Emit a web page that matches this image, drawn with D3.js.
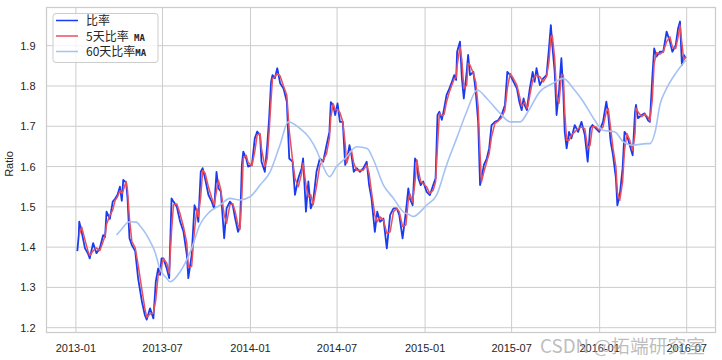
<!DOCTYPE html>
<html><head><meta charset="utf-8">
<script src="https://cdn.jsdelivr.net/npm/d3@7"></script>
<style>
html,body{margin:0;padding:0;background:#fff;}
svg{display:block;}
</style></head>
<body>
<svg id="chart" width="722" height="360"></svg>
<script>
const dates = ["2013-01-04","2013-01-07","2013-01-08","2013-01-13","2013-01-20","2013-01-26","2013-01-30","2013-02-06","2013-02-13","2013-02-20","2013-02-27","2013-03-03","2013-03-06","2013-03-13","2013-03-19","2013-03-24","2013-03-29","2013-04-03","2013-04-07","2013-04-10","2013-04-16","2013-04-19","2013-04-23","2013-04-28","2013-05-05","2013-05-11","2013-05-19","2013-05-25","2013-05-29","2013-06-05","2013-06-12","2013-06-17","2013-06-22","2013-06-26","2013-06-29","2013-07-03","2013-07-10","2013-07-15","2013-07-20","2013-07-24","2013-07-31","2013-08-07","2013-08-14","2013-08-21","2013-08-24","2013-08-31","2013-09-06","2013-09-11","2013-09-14","2013-09-19","2013-09-23","2013-09-28","2013-10-05","2013-10-12","2013-10-17","2013-10-22","2013-10-26","2013-10-31","2013-11-07","2013-11-12","2013-11-19","2013-11-25","2013-11-30","2013-12-06","2013-12-10","2013-12-14","2013-12-17","2013-12-23","2013-12-27","2014-01-04","2014-01-10","2014-01-15","2014-01-21","2014-01-24","2014-01-31","2014-02-05","2014-02-09","2014-02-13","2014-02-16","2014-02-21","2014-02-26","2014-03-04","2014-03-11","2014-03-18","2014-03-23","2014-03-30","2014-04-04","2014-04-11","2014-04-18","2014-04-21","2014-04-27","2014-05-02","2014-05-07","2014-05-12","2014-05-19","2014-05-26","2014-06-02","2014-06-09","2014-06-15","2014-06-18","2014-06-23","2014-06-27","2014-07-02","2014-07-07","2014-07-13","2014-07-18","2014-07-21","2014-07-27","2014-07-31","2014-08-05","2014-08-11","2014-08-18","2014-08-25","2014-09-01","2014-09-06","2014-09-11","2014-09-18","2014-09-23","2014-09-29","2014-10-06","2014-10-13","2014-10-20","2014-10-27","2014-11-03","2014-11-08","2014-11-15","2014-11-22","2014-11-27","2014-11-30","2014-12-06","2014-12-11","2014-12-15","2014-12-18","2014-12-23","2014-12-28","2015-01-04","2015-01-11","2015-01-18","2015-01-23","2015-01-27","2015-01-31","2015-02-05","2015-02-10","2015-02-15","2015-02-21","2015-02-26","2015-03-03","2015-03-07","2015-03-09","2015-03-15","2015-03-19","2015-03-23","2015-03-29","2015-04-01","2015-04-05","2015-04-12","2015-04-17","2015-04-22","2015-04-26","2015-04-29","2015-05-04","2015-05-10","2015-05-15","2015-05-20","2015-05-27","2015-06-03","2015-06-10","2015-06-17","2015-06-22","2015-06-28","2015-07-05","2015-07-12","2015-07-17","2015-07-22","2015-07-26","2015-07-29","2015-08-02","2015-08-04","2015-08-08","2015-08-14","2015-08-18","2015-08-22","2015-08-29","2015-09-05","2015-09-12","2015-09-17","2015-09-21","2015-09-24","2015-09-29","2015-10-03","2015-10-08","2015-10-13","2015-10-17","2015-10-20","2015-10-24","2015-10-29","2015-11-03","2015-11-10","2015-11-17","2015-11-24","2015-12-01","2015-12-07","2015-12-12","2015-12-17","2015-12-24","2015-12-31","2016-01-08","2016-01-15","2016-01-19","2016-01-24","2016-01-29","2016-02-04","2016-02-07","2016-02-12","2016-02-18","2016-02-22","2016-02-27","2016-03-04","2016-03-10","2016-03-15","2016-03-17","2016-03-21","2016-03-29","2016-04-04","2016-04-11","2016-04-15","2016-04-20","2016-04-24","2016-04-29","2016-05-06","2016-05-13","2016-05-20","2016-05-27","2016-06-01","2016-06-08","2016-06-13","2016-06-17","2016-06-21","2016-06-25","2016-06-29"];

const ratio = [1.39,1.43,1.463,1.438,1.397,1.385,1.372,1.41,1.385,1.397,1.43,1.425,1.488,1.47,1.513,1.52,1.53,1.55,1.515,1.567,1.56,1.52,1.422,1.405,1.39,1.323,1.265,1.232,1.22,1.248,1.223,1.314,1.347,1.331,1.372,1.372,1.347,1.323,1.521,1.513,1.50,1.463,1.438,1.38,1.323,1.38,1.504,1.488,1.463,1.587,1.596,1.571,1.53,1.513,1.496,1.587,1.546,1.538,1.422,1.496,1.513,1.504,1.471,1.438,1.45,1.604,1.637,1.62,1.60,1.604,1.67,1.687,1.678,1.612,1.587,1.653,1.72,1.81,1.827,1.819,1.844,1.807,1.794,1.761,1.62,1.612,1.53,1.571,1.596,1.62,1.488,1.563,1.496,1.513,1.587,1.62,1.612,1.653,1.686,1.76,1.752,1.728,1.757,1.711,1.711,1.604,1.612,1.653,1.629,1.587,1.596,1.587,1.596,1.612,1.554,1.521,1.438,1.488,1.463,1.471,1.397,1.48,1.496,1.496,1.48,1.422,1.488,1.546,1.521,1.504,1.62,1.612,1.571,1.554,1.563,1.538,1.529,1.554,1.571,1.728,1.736,1.716,1.745,1.778,1.794,1.81,1.827,1.815,1.885,1.91,1.819,1.769,1.835,1.877,1.827,1.835,1.786,1.711,1.554,1.57,1.604,1.62,1.645,1.703,1.711,1.715,1.728,1.753,1.835,1.827,1.81,1.794,1.761,1.74,1.769,1.75,1.74,1.76,1.794,1.835,1.81,1.844,1.802,1.819,1.827,1.893,1.951,1.901,1.835,1.728,1.786,1.869,1.786,1.686,1.645,1.686,1.67,1.703,1.686,1.711,1.678,1.612,1.695,1.703,1.695,1.686,1.711,1.761,1.728,1.662,1.628,1.571,1.504,1.529,1.596,1.686,1.678,1.653,1.628,1.736,1.753,1.72,1.728,1.732,1.715,1.711,1.819,1.893,1.873,1.885,1.885,1.935,1.91,1.885,1.901,1.943,1.96,1.852,1.877,1.869];

const ma5 = [null,null,1.43,1.45,1.418,1.391,1.379,1.391,1.398,1.391,1.414,1.428,1.456,1.479,1.492,1.516,1.525,1.54,1.533,1.541,1.563,1.54,1.471,1.414,1.398,1.357,1.294,1.249,1.226,1.234,1.236,1.269,1.331,1.339,1.352,1.372,1.36,1.335,1.44,1.505,1.507,1.482,1.45,1.409,1.35,1.352,1.442,1.496,1.476,1.525,1.59,1.584,1.55,1.522,1.505,1.54,1.566,1.542,1.48,1.459,1.505,1.508,1.488,1.455,1.444,1.527,1.62,1.628,1.61,1.602,1.637,1.678,1.682,1.645,1.60,1.62,1.686,1.765,1.818,1.823,1.831,1.825,1.80,1.777,1.69,1.616,1.571,1.55,1.583,1.608,1.554,1.525,1.53,1.505,1.55,1.603,1.616,1.632,1.67,1.723,1.756,1.74,1.742,1.734,1.711,1.657,1.608,1.632,1.641,1.608,1.591,1.591,1.591,1.604,1.583,1.537,1.48,1.463,1.475,1.467,1.434,1.438,1.488,1.496,1.488,1.451,1.455,1.517,1.533,1.512,1.562,1.616,1.591,1.562,1.558,1.55,1.533,1.541,1.562,1.65,1.732,1.726,1.73,1.761,1.786,1.802,1.818,1.821,1.85,1.897,1.864,1.794,1.802,1.856,1.852,1.831,1.81,1.748,1.632,1.562,1.587,1.612,1.632,1.674,1.707,1.713,1.721,1.74,1.794,1.831,1.818,1.802,1.777,1.75,1.755,1.76,1.745,1.75,1.777,1.814,1.822,1.827,1.823,1.81,1.823,1.86,1.922,1.926,1.868,1.78,1.757,1.827,1.827,1.736,1.665,1.665,1.678,1.686,1.694,1.698,1.694,1.645,1.653,1.699,1.699,1.69,1.698,1.736,1.744,1.695,1.645,1.60,1.537,1.516,1.562,1.641,1.682,1.665,1.64,1.682,1.745,1.736,1.724,1.73,1.723,1.713,1.765,1.856,1.883,1.879,1.885,1.91,1.922,1.897,1.893,1.922,1.951,1.906,1.864,1.873];

const ma60Dates = ["2013-03-27","2013-04-07","2013-04-18","2013-04-24","2013-05-07","2013-05-17","2013-05-29","2013-06-07","2013-06-15","2013-06-26","2013-07-08","2013-07-17","2013-08-07","2013-08-31","2013-09-17","2013-10-08","2013-10-29","2013-11-19","2013-12-10","2013-12-31","2014-01-21","2014-02-11","2014-03-04","2014-03-21","2014-04-14","2014-05-05","2014-05-19","2014-06-02","2014-06-15","2014-06-30","2014-07-18","2014-08-11","2014-09-02","2014-09-14","2014-10-06","2014-10-27","2014-11-16","2014-11-30","2014-12-07","2015-01-04","2015-01-25","2015-02-15","2015-03-08","2015-03-29","2015-04-20","2015-05-10","2015-06-07","2015-06-28","2015-07-19","2015-08-04","2015-08-29","2015-09-26","2015-10-17","2015-11-07","2015-11-28","2015-12-19","2016-01-08","2016-02-02","2016-02-19","2016-03-11","2016-04-08","2016-04-15","2016-04-26","2016-05-06","2016-05-20","2016-06-10","2016-06-29"];
const ma60 = [1.43,1.445,1.46,1.463,1.462,1.45,1.43,1.41,1.389,1.345,1.325,1.314,1.339,1.397,1.455,1.488,1.504,1.521,1.517,1.525,1.554,1.587,1.655,1.711,1.695,1.67,1.641,1.60,1.575,1.60,1.62,1.649,1.645,1.62,1.554,1.521,1.488,1.48,1.476,1.504,1.529,1.604,1.67,1.736,1.79,1.769,1.732,1.711,1.711,1.736,1.786,1.807,1.819,1.794,1.761,1.72,1.69,1.686,1.662,1.653,1.657,1.657,1.686,1.753,1.794,1.835,1.864];

const yTicks = [1.2,1.3,1.4,1.5,1.6,1.7,1.8,1.9];
const xTickLabels = ["2013-01","2013-07","2014-01","2014-07","2015-01","2015-07","2016-01","2016-07"];
const legendLabels = ["比率","5天比率 MA","60天比率MA"];

const parse = d3.timeParse("%Y-%m-%d");
const parseM = d3.timeParse("%Y-%m");
const svg = d3.select("#chart");
const L = 46, R = 716, T = 7, B = 333;

const x = d3.scaleTime().domain([parse("2013-01-01"), parse("2016-07-01")]).range([75.9, 686.7]);
const y = d3.scaleLinear().domain([1.2, 1.9]).range([327.7, 45.7]);

svg.append("rect").attr("x",0).attr("y",0).attr("width",722).attr("height",360).attr("fill","#fff");

const grid = svg.append("g");
grid.selectAll(".gy").data(yTicks).enter().append("line")
  .attr("x1",L).attr("x2",R).attr("y1",d=>y(d)).attr("y2",d=>y(d))
  .attr("stroke","#cccccc").attr("stroke-width",1);
grid.selectAll(".gx").data(xTickLabels).enter().append("line")
  .attr("x1",d=>x(parseM(d))).attr("x2",d=>x(parseM(d))).attr("y1",T).attr("y2",B)
  .attr("stroke","#cccccc").attr("stroke-width",1);

const fontAx = "'Liberation Sans', Arial, sans-serif";
svg.append("g").selectAll("text").data(yTicks).enter().append("text")
  .attr("x",35.5).attr("y",d=>y(d)+4).attr("text-anchor","end")
  .attr("font-family",fontAx).attr("font-size",11).attr("fill","#262626")
  .text(d=>d3.format(".1f")(d));
svg.append("g").selectAll("text").data(xTickLabels).enter().append("text")
  .attr("x",d=>x(parseM(d))).attr("y",351.5).attr("text-anchor","middle")
  .attr("font-family",fontAx).attr("font-size",11).attr("fill","#262626")
  .text(d=>d);
svg.append("text").attr("transform","translate(13,164) rotate(-90)")
  .attr("text-anchor","middle").attr("font-family",fontAx).attr("font-size",11).attr("fill","#262626")
  .text("Ratio");

svg.append("clipPath").attr("id","clip").append("rect")
  .attr("x",L).attr("y",T).attr("width",R-L).attr("height",B-T);
const plot = svg.append("g").attr("clip-path","url(#clip)");

const rData = dates.map((d,i)=>({d:parse(d), v:ratio[i]}));
const m5Data = dates.map((d,i)=>({d:parse(d), v:ma5[i]})).filter(p=>p.v!==null);
const m60Data = ma60Dates.map((d,i)=>({d:parse(d), v:ma60[i]}));
const line = d3.line().x(p=>x(p.d)).y(p=>y(p.v));
const smooth = d3.line().x(p=>x(p.d)).y(p=>y(p.v)).curve(d3.curveMonotoneX);

const cBlue = "#1a3cf0", cRed = "#e8505f", cLight = "#a4c2f4";
plot.append("path").attr("d",line(rData)).attr("fill","none").attr("stroke",cBlue).attr("stroke-width",1.8).attr("stroke-linejoin","round");
plot.append("path").attr("d",line(m5Data)).attr("fill","none").attr("stroke",cRed).attr("stroke-width",1.5).attr("stroke-linejoin","round");
plot.append("path").attr("d",smooth(m60Data)).attr("fill","none").attr("stroke",cLight).attr("stroke-width",1.6);

svg.append("rect").attr("x",L+0.5).attr("y",T+0.5).attr("width",R-L-1).attr("height",B-T-1)
  .attr("fill","none").attr("stroke","#cccccc").attr("stroke-width",1.25);

// legend
const lg = svg.append("g");
lg.append("rect").attr("x",53).attr("y",13.5).attr("width",105).attr("height",49).attr("rx",3)
  .attr("fill","#fff").attr("fill-opacity",0.8).attr("stroke","#cccccc").attr("stroke-width",1);
const lc = [cBlue, cRed, cLight];
legendLabels.forEach((t,i)=>{
  const yy = 20.5 + i*15.5;
  lg.append("line").attr("x1",56).attr("x2",78).attr("y1",yy).attr("y2",yy).attr("stroke",lc[i]).attr("stroke-width",1.5);
  const tx = lg.append("text").attr("x",86).attr("y",yy+4.5).attr("font-family","'Noto Sans CJK SC', sans-serif").attr("font-size",12).attr("fill","#262626");
  const m = t.match(/^(.*?)(\s?MA)$/);
  if (m) {
    tx.append("tspan").text(m[1]);
    tx.append("tspan").attr("font-family","'DejaVu Sans Mono', monospace").attr("font-size",9).attr("font-weight","bold").text(m[2]);
  } else tx.text(t);
});

// watermark
svg.append("text").attr("x",540).attr("y",352.5).attr("text-anchor","start")
  .attr("font-family","'Noto Sans CJK SC', sans-serif").attr("font-size",18.5).attr("fill","#a0a0a0").attr("fill-opacity",0.7)
  .attr("textLength",165).attr("lengthAdjust","spacingAndGlyphs")
  .text("CSDN @拓端研究室");
</script>
</body></html>
